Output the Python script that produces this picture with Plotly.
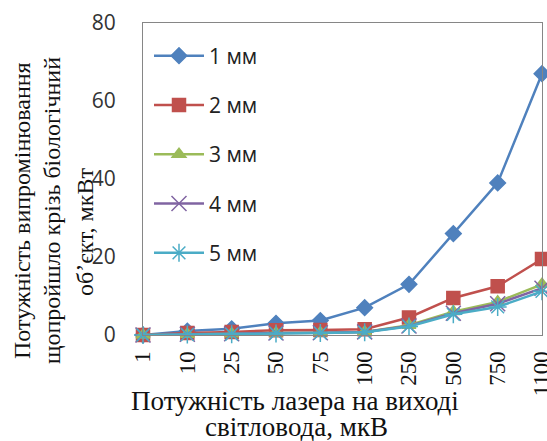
import plotly.graph_objects as go

categories = ["1", "10", "25", "50", "75", "100", "250", "500", "750", "1100"]
series_names = ["1 мм", "2 мм", "3 мм", "4 мм", "5 мм"]
s1 = [0, 1.0, 1.6, 3.0, 3.7, 7.0, 13.0, 26.0, 39.0, 67.0]
s2 = [0, 0.5, 0.8, 1.2, 1.3, 1.5, 4.5, 9.5, 12.5, 19.5]
s3 = [0, 0.2, 0.3, 0.5, 0.6, 0.8, 2.5, 6.0, 8.5, 13.0]
s4 = [0, 0.2, 0.3, 0.5, 0.6, 0.8, 2.3, 5.6, 8.0, 12.0]
s5 = [0, 0.1, 0.2, 0.4, 0.5, 0.7, 2.2, 5.3, 7.2, 11.2]
y_ticks = [0, 20, 40, 60, 80]

colors = ["#4F81BD", "#C0504D", "#9BBB59", "#8064A2", "#4BACC6"]
symbols = ["diamond", "square", "triangle-up", "x-thin", "asterisk"]
sizes = [12, 13, 12, 15, 15]
xs = list(range(len(categories)))

fig = go.Figure()
for i, (name, ys) in enumerate(zip(series_names, [s1, s2, s3, s4, s5])):
    fig.add_trace(go.Scatter(
        x=xs, y=ys, name=name, mode="lines+markers",
        line=dict(color=colors[i], width=2.5),
        marker=dict(symbol=symbols[i], size=sizes[i], color=colors[i],
                    line=dict(color=colors[i], width=1.5)),
        cliponaxis=False, legendgroup=f"g{i}",
    ))

serif = "Liberation Serif"
sans = "Open Sans"

L, T, R, B = 143, 23, 542, 335
W, H = 547, 441
pw, ph = R - L, B - T

fig.update_layout(
    width=W, height=H,
    margin=dict(l=L, r=W - R, t=T, b=H - B, autoexpand=False),
    paper_bgcolor="white", plot_bgcolor="white",
    showlegend=True,
    legend=dict(x=6 / pw, y=0.96, xanchor="left", yanchor="top",
                font=dict(family=sans, size=21, color="#222"),
                bgcolor="rgba(0,0,0,0)", tracegroupgap=19,
                itemwidth=50),
    xaxis=dict(range=[0, 9], tickvals=xs, ticktext=categories,
               tickangle=-90, showgrid=False, zeroline=False, automargin=False,
               showline=True, linecolor="#868686", linewidth=1, mirror=True,
               tickfont=dict(family=serif, size=23, color="#111"), ticks="",
               ticklabelstandoff=6, ticklabeloverflow="allow"),
    yaxis=dict(range=[0, 80], tickvals=y_ticks, showgrid=False, zeroline=False,
               automargin=False,
               showline=True, linecolor="#868686", linewidth=1, mirror=True,
               tickfont=dict(family=sans, size=21, color="#333"), ticks="",
               ticklabelstandoff=22),
)

ann = []
ylines = [("Потужність випромінювання", 22, 211), ("щопройшло крізь біологічний", 52, 211), ("обʼєкт, мкВт", 85, 232)]
for txt, px, py in ylines:
    ann.append(dict(text=txt, xref="paper", yref="paper",
                    x=(px - L) / pw, y=(B - py) / ph,
                    xanchor="center", yanchor="middle", textangle=-90,
                    showarrow=False, font=dict(family=serif, size=24, color="#111")))
xlines = [("Потужність лазера на виході", 295, 401), ("світловода, мкВ", 296, 427)]
for txt, px, py in xlines:
    ann.append(dict(text=txt, xref="paper", yref="paper",
                    x=(px - L) / pw, y=(B - py) / ph,
                    xanchor="center", yanchor="middle",
                    showarrow=False, font=dict(family=serif, size=27, color="#111")))
fig.update_layout(annotations=ann)

fig.write_html("out.html", config={"displayModeBar": False},
               post_script="document.body.style.margin='0';document.body.style.padding='0';document.body.style.overflow='hidden';")
